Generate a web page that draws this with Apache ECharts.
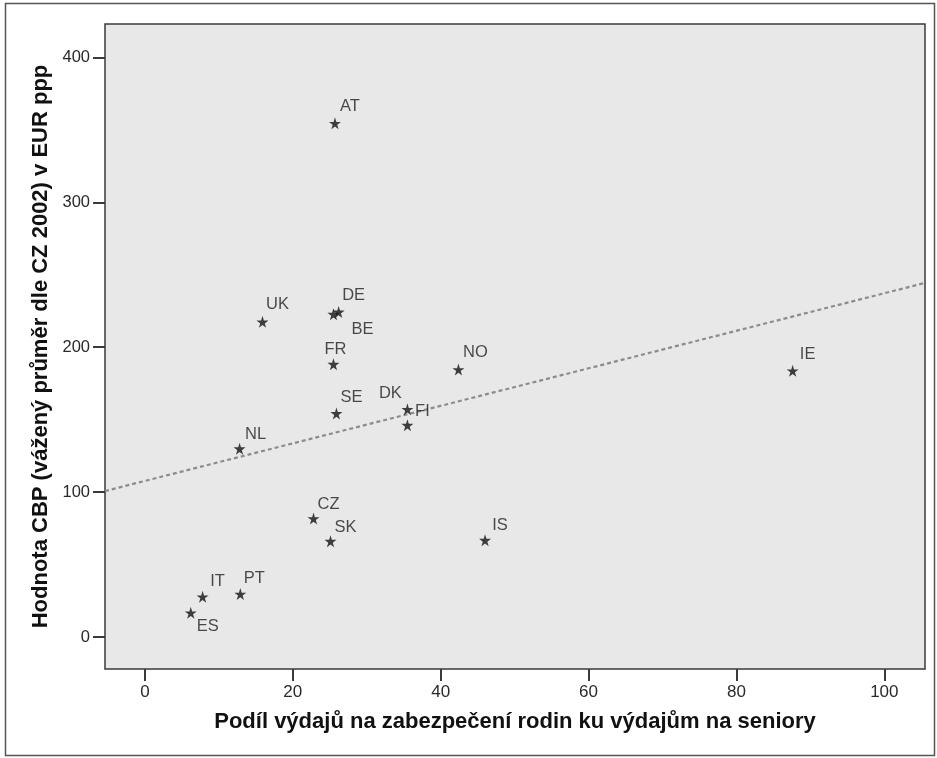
<!DOCTYPE html>
<html><head><meta charset="utf-8">
<script src="https://cdn.jsdelivr.net/npm/echarts@6/dist/echarts.min.js"></script>
<style>html,body{margin:0;padding:0;background:#fff}#c{width:937px;height:758px}</style>
</head><body><div id="c"></div>
<script>
const countries = ['AT','UK','BE','DE','FR','SE','NL','DK','FI','NO','IE','CZ','SK','IT','PT','ES','IS'];
const xValues  = [25.7, 15.9, 25.5, 26.2, 25.5, 25.9, 12.8, 35.5, 35.5, 42.4, 87.6, 22.8, 25.1, 7.8, 12.9, 6.2, 46.0];
const yValues  = [354.5, 217.5, 222.8, 224.3, 188.3, 154.3, 130.0, 157.2, 146.2, 184.6, 183.7, 81.8, 66.2, 27.8, 29.7, 16.8, 66.9];
const xTicks = [0, 20, 40, 60, 80, 100];
const yTicks = [0, 100, 200, 300, 400];
const xTitle = 'Podíl výdajů na zabezpečení rodin ku výdajům na seniory';
const yTitle = 'Hodnota CBP (vážený průměr dle CZ 2002) v EUR ppp';

// label placement (style only)
const labelOffsets = {
  AT:[15,-17], UK:[15,-17], BE:[29,15], DE:[15,-17], FR:[2,-15], SE:[15,-16], NL:[16,-14],
  DK:[-17,-16], FI:[15,-14], NO:[17,-17], IE:[15,-16], CZ:[15,-14], SK:[15,-14],
  IT:[15,-15], PT:[14,-16], ES:[17,14], IS:[15,-15]
};

const X_MIN = -5.4, X_MAX = 105.5, Y_MIN = -22, Y_MAX = 423;

// linear fit
const n = xValues.length;
const mx = xValues.reduce((a,b)=>a+b,0)/n, my = yValues.reduce((a,b)=>a+b,0)/n;
let sxy=0, sxx=0;
for (let i=0;i<n;i++){ sxy += (xValues[i]-mx)*(yValues[i]-my); sxx += (xValues[i]-mx)**2; }
const slope = sxy/sxx, intercept = my - slope*mx;
const fitData = [[X_MIN, intercept+slope*X_MIN],[X_MAX, intercept+slope*X_MAX]];

const star = 'path://M50,0 L61,35 L98,35 L68,57 L79,91 L50,70 L21,91 L32,57 L2,35 L39,35 Z';
const pts = countries.map((c,i)=>({
  name:c, value:[xValues[i], yValues[i]],
  label:{show:true, position:'inside', offset:labelOffsets[c], formatter:c}
}));

const chart = echarts.init(document.getElementById('c'), null, {renderer:'canvas'});
const font = '"Liberation Sans", Arial, sans-serif';
chart.setOption({
  animation:false,
  backgroundColor:'#fff',
  graphic:[{type:'rect', shape:{x:5.5,y:3.5,width:929,height:752}, style:{fill:'none', stroke:'#555', lineWidth:1.5}, z:-1}],
  grid:{left:105, top:24, width:820, height:645, show:true, backgroundColor:'#e8e8e8', borderColor:'#3a3a3a', borderWidth:1.5},
  xAxis:{type:'value', min:X_MIN, max:X_MAX,
    name:xTitle, nameLocation:'middle', nameGap:42,
    nameTextStyle:{fontFamily:font, fontWeight:'bold', fontSize:22, color:'#111'},
    axisLine:{show:false, onZero:false},
    axisTick:{show:true, length:12, lineStyle:{color:'#3a3a3a', width:2}, customValues:xTicks},
    axisLabel:{fontFamily:font, fontSize:17, color:'#2a2a2a', margin:15, customValues:xTicks},
    splitLine:{show:false}},
  yAxis:{type:'value', min:Y_MIN, max:Y_MAX,
    name:yTitle, nameLocation:'middle', nameGap:45, nameRotate:90,
    nameTextStyle:{fontFamily:font, fontWeight:'bold', fontSize:22, color:'#111'},
    axisLine:{show:false, onZero:false},
    axisTick:{show:true, length:12, lineStyle:{color:'#3a3a3a', width:2}, customValues:yTicks},
    axisLabel:{fontFamily:font, fontSize:16.5, color:'#2a2a2a', margin:15, customValues:yTicks},
    splitLine:{show:false}},
  series:[
    {type:'line', data:fitData, showSymbol:false, symbol:'none', silent:true,
     lineStyle:{color:'#8c8c8c', width:2.2, type:[4,3]}, z:1},
    {type:'scatter', data:pts, symbol:star, symbolSize:12,
     itemStyle:{color:'#111'},
     label:{fontFamily:font, fontSize:16.5, color:'#1e1e1e'}, z:3}
  ]
});
</script></body></html>
